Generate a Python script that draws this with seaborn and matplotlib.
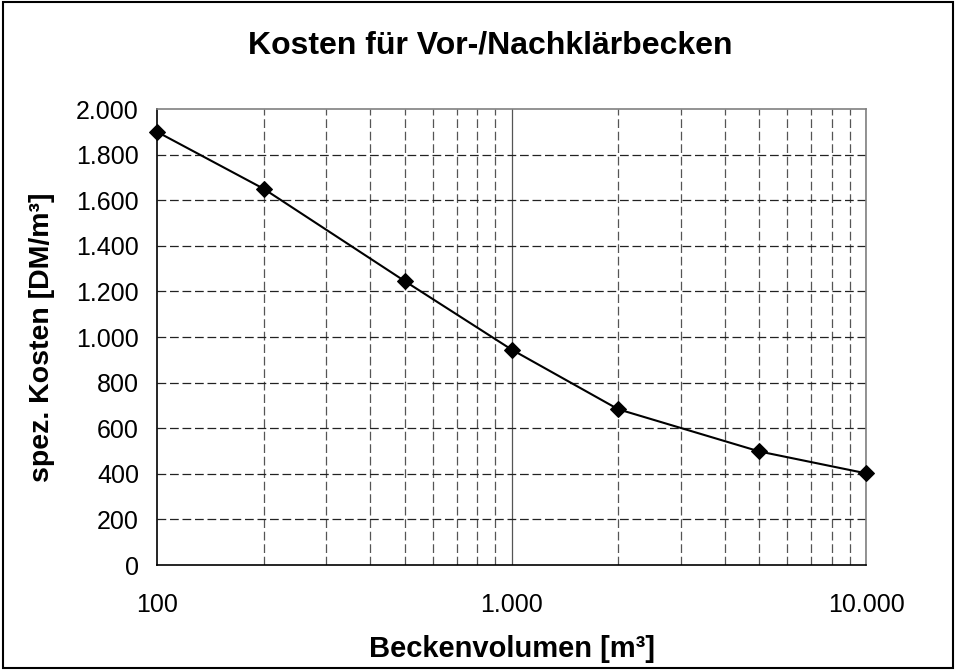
import matplotlib
matplotlib.use("Agg")
import matplotlib.pyplot as plt
from matplotlib.ticker import FixedLocator, FuncFormatter, NullFormatter
from matplotlib.patches import Rectangle
import seaborn as sns
import pandas as pd

volumen = [100, 200, 500, 1000, 2000, 5000, 10000]
kosten = [1900, 1650, 1245, 945, 683, 498, 402]
y_ticks = [0, 200, 400, 600, 800, 1000, 1200, 1400, 1600, 1800, 2000]
x_major = [100, 1000, 10000]
x_minor = [200, 300, 400, 500, 600, 700, 800, 900,
           2000, 3000, 4000, 5000, 6000, 7000, 8000, 9000]

sns.set_style("white")
plt.rcParams["font.family"] = ["Liberation Sans", "DejaVu Sans"]
plt.rcParams.update({"text.color": "black", "axes.labelcolor": "black",
                     "xtick.color": "black", "ytick.color": "black"})

df = pd.DataFrame({"volumen": volumen, "kosten": kosten})

fig = plt.figure(figsize=(9.56, 6.70), dpi=100)
ax = fig.add_axes([0.1642, 0.1567, 0.7418, 0.6806])

sns.lineplot(data=df, x="volumen", y="kosten", ax=ax, color="black",
             linewidth=1.5, marker="D", markersize=8, markeredgecolor="black",
             markerfacecolor="black", zorder=5, clip_on=False)

ax.set_xscale("log")
ax.set_xlim(100, 10000)
ax.set_ylim(0, 2000)

def de_fmt(v, pos=None):
    return f"{int(round(v)):,}".replace(",", ".")

ax.xaxis.set_major_locator(FixedLocator(x_major))
ax.xaxis.set_minor_locator(FixedLocator(x_minor))
ax.xaxis.set_major_formatter(FuncFormatter(de_fmt))
ax.xaxis.set_minor_formatter(NullFormatter())
ax.yaxis.set_major_locator(FixedLocator(y_ticks))
ax.yaxis.set_major_formatter(FuncFormatter(de_fmt))

# grid: solid major verticals, dashed minor verticals and dashed horizontals
dash = (0, (7, 3))
for xv in x_major[1:]:
    ax.axvline(xv, color="#555555", linewidth=0.9, zorder=1)
for xv in x_minor:
    ax.axvline(xv, color="#555555", linewidth=0.9, linestyle=dash, zorder=1)
for yv in y_ticks[1:-1]:
    ax.axhline(yv, color="#222222", linewidth=0.9, linestyle=dash, zorder=1)

for side in ["top", "right"]:
    ax.spines[side].set_color("#808080")
    ax.spines[side].set_linewidth(1.2)
for side in ["left", "bottom"]:
    ax.spines[side].set_color("black")
    ax.spines[side].set_linewidth(1.2)

ax.tick_params(axis="both", which="major", direction="out", length=5,
               width=1, color="black", labelcolor="black", labelsize=18)
ax.tick_params(axis="y", which="major", pad=8)
ax.tick_params(axis="x", which="major", pad=15)
ax.tick_params(axis="x", which="minor", length=0)

ax.set_xlabel("Beckenvolumen [m³]", fontsize=21, fontweight="bold", labelpad=13)
ax.set_ylabel("spez. Kosten [DM/m³]", fontsize=20.5, fontweight="bold", labelpad=15)
fig.text(490 / 956, 1 - 54 / 670, "Kosten für Vor-/Nachklärbecken", ha="center",
         va="baseline", fontsize=23, fontweight="bold")

fig.patches.append(Rectangle((0.003, 0.003), 0.994, 0.994, transform=fig.transFigure,
                             fill=False, edgecolor="black", linewidth=1.5))

fig.savefig("out.png", dpi=100)
